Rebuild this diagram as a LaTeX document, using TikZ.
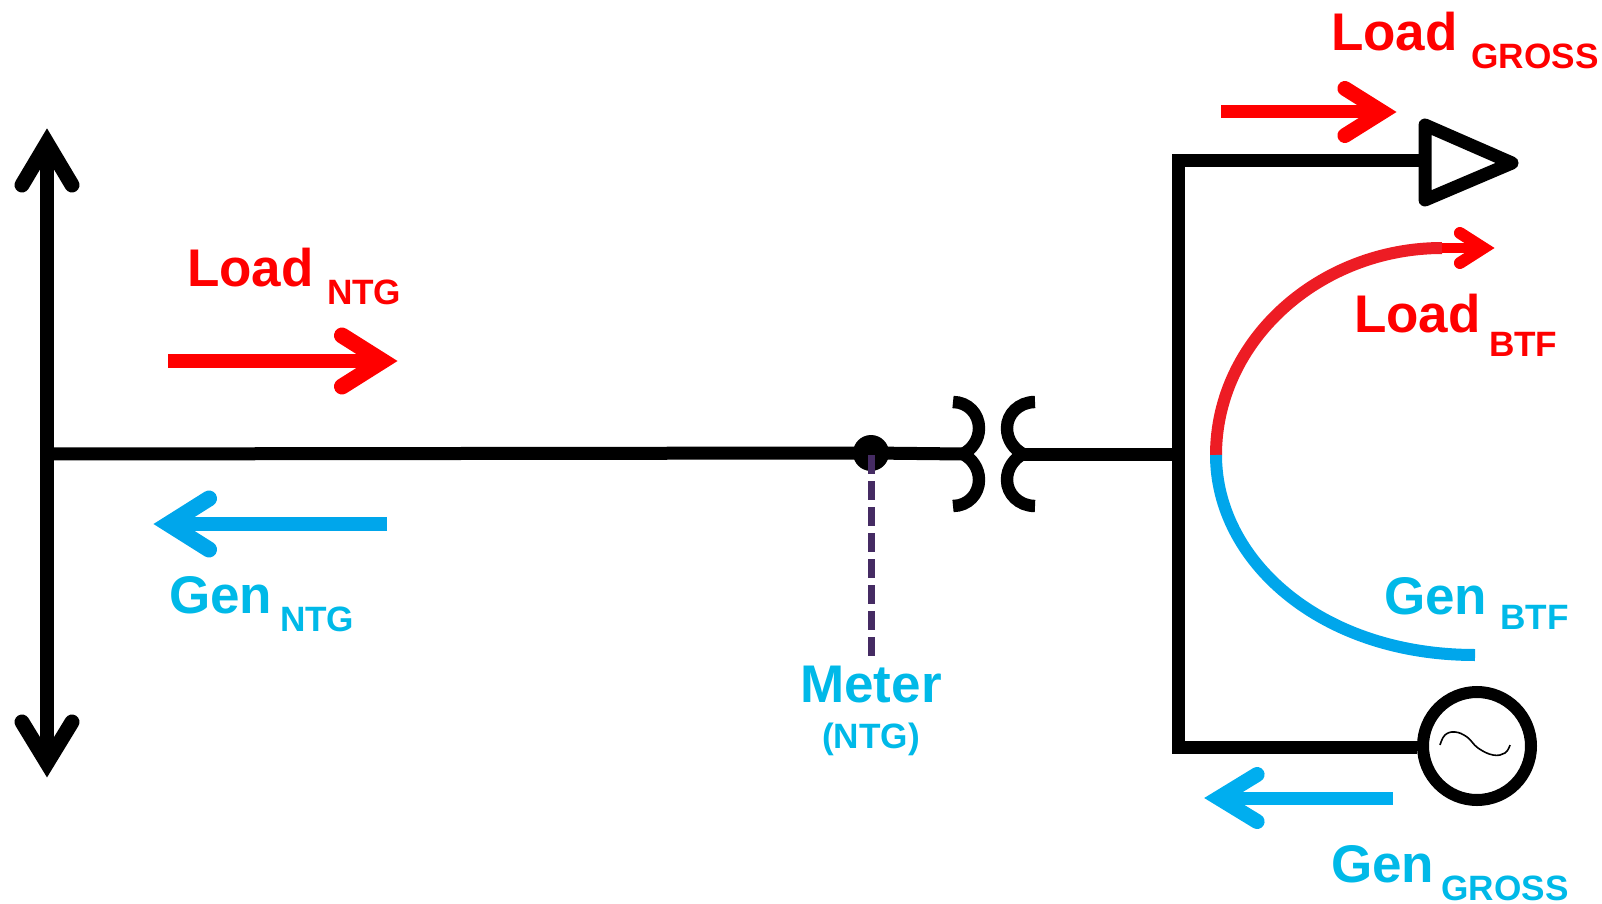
\documentclass[tikz,border=0pt]{standalone}
\usepackage{fontspec}
\setmainfont{Liberation Sans}
\definecolor{txtblue}{HTML}{00B9E8}
\definecolor{arrblue}{HTML}{00AEEF}
\definecolor{arrblueb}{HTML}{00A6EB}
\definecolor{arcred}{HTML}{ED1C24}
\definecolor{meterc}{HTML}{452B63}
\newcommand{\flowarrow}[8]{%
  \draw[line width=#8, color=#1] (#2) -- (#3);
  \draw[line width=#8+1pt, color=#1, line cap=round, line join=miter, miter limit=10]
    ([shift={(#4,#5)}]#3) -- (#3) -- ([shift={(#6,#7)}]#3);}
\tikzset{
  wire/.style={line width=6.5pt, color=black},
  bigtxt/.style={inner sep=0pt, outer sep=0pt, anchor=base west, font=\fontsize{26.5}{30}\selectfont\bfseries},
  subtxt/.style={inner sep=0pt, outer sep=0pt, anchor=base west, font=\fontsize{17.6}{20}\selectfont\bfseries},
  xfmr/.style={line width=6.2pt, color=black},
}
\begin{document}
\begin{tikzpicture}[x=0.5pt,y=-0.5pt]
\useasboundingbox (0,0) rectangle (1602,904);
% named points
\coordinate (busTop) at (47,143);
\coordinate (busBot) at (47,763);
\coordinate (busMid) at (47,454);
\coordinate (xL) at (963,454);
\coordinate (xR) at (1023,454);
\coordinate (rbMid) at (1178,454);
\coordinate (rbTop) at (1178,160.5);
\coordinate (rbBot) at (1178,747);
\coordinate (loadIn) at (1425,160.5);
\coordinate (mEnd) at (871,657);
\coordinate (arcStart) at (1216,455);
\coordinate (arcRedEnd) at (1442,248);
\coordinate (arcBlueEnd) at (1475,655);
\coordinate (btfTip) at (1483.4,248);
% left bus
\draw[line width=7pt] (busTop) -- (busBot);
\draw[line width=7.5pt, line cap=round, miter limit=10] ([shift={(-25,42)}]busTop) -- (busTop) -- ([shift={(25,42)}]busTop);
\draw[line width=7.5pt, line cap=round, miter limit=10] ([shift={(-25,-41)}]busBot) -- (busBot) -- ([shift={(25,-41)}]busBot);
% main line, meter
\node[circle, fill=black, inner sep=0pt, minimum size=18pt] (dot) at (871,453) {};
\draw[wire] (busMid) -- (dot.center);
\draw[wire] (dot.center) -- (xL);
\draw[wire] (xR) -- (rbMid);
\draw[line width=3.5pt, color=meterc, dash pattern=on 9.5pt off 3.5pt] (871,455) -- (mEnd);
% transformer
\draw[xfmr] (953,402) .. controls (968,402) and (979,414) .. (979,428) .. controls (979,440) and (972,449) .. (xL) .. controls (972,459) and (979,468) .. (979,480) .. controls (979,494) and (968,506) .. (953,506);
\draw[xfmr] (1035,402) .. controls (1019,402) and (1007,414) .. (1007,428) .. controls (1007,440) and (1014,449) .. (xR) .. controls (1014,459) and (1007,468) .. (1007,480) .. controls (1007,494) and (1019,506) .. (1035,506);
% right bus, load, generator
\node[circle, draw=black, line width=6pt, minimum size=54pt, inner sep=0pt] (gen) at (1477,746) {};
\draw[wire, line join=miter] (gen.west |- rbBot) -- (rbBot) -- (rbTop) -- (loadIn);
\draw[line width=6.5pt, line join=round] (1425,125) -- (1512,163) -- (1425,200) -- cycle;
\draw[line width=0.8pt] plot[smooth, tension=0.7] coordinates {(1440,745) (1445,735) (1455,732) (1467,737) (1478,748) (1493,755) (1505,753) (1510,745)};
% BTF curves
\draw[line width=6pt, color=arcred] (arcStart) .. controls (1216,340) and (1320,248) .. (arcRedEnd);
\draw[line width=6pt, color=arrblueb] (arcStart) .. controls (1216,560) and (1320,655) .. (arcBlueEnd);
\flowarrow{red}{arcRedEnd}{btfTip}{-23.5}{-15}{-23.5}{15}{5pt}
% straight flow arrows
\coordinate (aS) at (1221,112); \coordinate (aT) at (1382.4,112);
\flowarrow{red}{aS}{aT}{-37.5}{-23.5}{-37.5}{23.5}{6.5pt}
\coordinate (bS) at (168,361); \coordinate (bT) at (382.5,361);
\flowarrow{red}{bS}{bT}{-40.5}{-25.5}{-40.5}{25.5}{7pt}
\coordinate (cS) at (387,524); \coordinate (cT) at (168.5,524);
\flowarrow{arrblueb}{cS}{cT}{40.5}{-25.5}{40.5}{25.5}{7pt}
\coordinate (dS) at (1393,798); \coordinate (dT) at (1218.6,798);
\flowarrow{arrblue}{dS}{dT}{38.5}{-23.5}{38.5}{23.5}{6.5pt}
% labels
\node[bigtxt, red] (t1) at (1331,51) {Load};
\node[subtxt, red] (t2) at (1471.5,69) {GROSS};
\node[bigtxt, red] (t3) at (187,286) {Load};
\node[subtxt, red] (t4) at (327,304) {NTG};
\node[bigtxt, red] (t5) at (1354,332) {Load};
\node[subtxt, red] (t6) at (1489,356) {BTF};
\node[bigtxt, txtblue] (t7) at (169,613) {Gen};
\node[subtxt, txtblue] (t8) at (280,631) {NTG};
\node[bigtxt, txtblue] (t9) at (1384,614) {Gen};
\node[subtxt, txtblue] (t10) at (1500.5,629) {BTF};
\node[bigtxt, txtblue] (t11) at (1331,882) {Gen};
\node[subtxt, txtblue] (t12) at (1441.5,900) {GROSS};
\node[bigtxt, txtblue, anchor=base] (t13) at (871,702) {Meter};
\node[subtxt, txtblue, anchor=base] (t14) at (871,748) {(NTG)};
\end{tikzpicture}
\end{document}
